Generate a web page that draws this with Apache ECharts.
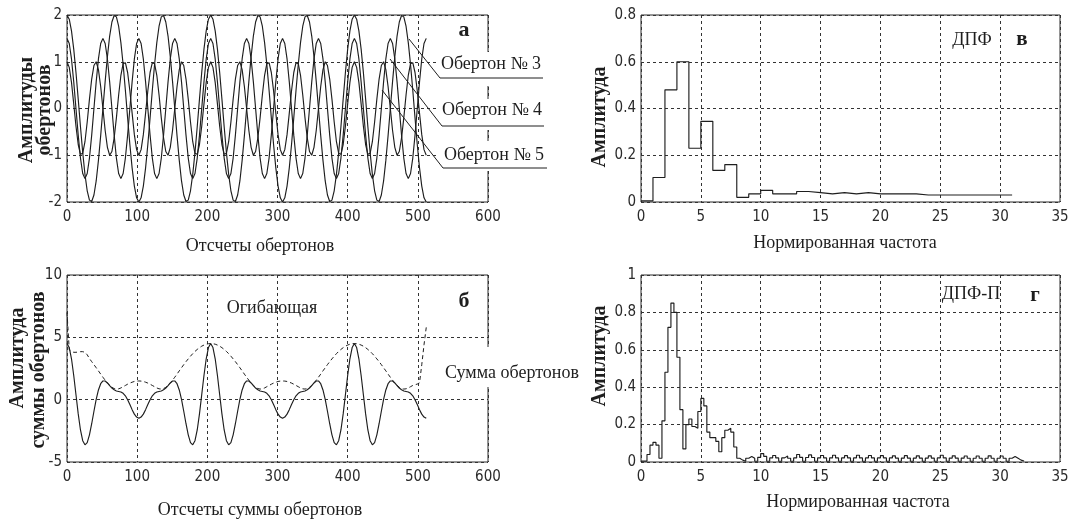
<!DOCTYPE html>
<html>
<head>
<meta charset="utf-8">
<title>Обертоны и ДПФ</title>
<script src="https://cdn.jsdelivr.net/npm/echarts@6/dist/echarts.min.js"></script>
<style>
	html, body { margin: 0; padding: 0; background: #fff; }
	#chart { width: 1073px; height: 521px; }
</style>
</head>
<body>
<div id="chart"></div>
<script>
// sample numbers (Отсчеты), shared by panels а and б
const sampleX = [
	0,3.2,6.4,9.6,12.8,16,19.2,22.4,25.6,28.8,
	32,35.2,38.4,41.6,44.8,48,51.2,54.4,57.6,60.8,
	64,67.2,70.4,73.6,76.8,80,83.2,86.4,89.6,92.8,
	96,99.2,102.4,105.6,108.8,112,115.2,118.4,121.6,124.8,
	128,131.2,134.4,137.6,140.8,144,147.2,150.4,153.6,156.8,
	160,163.2,166.4,169.6,172.8,176,179.2,182.4,185.6,188.8,
	192,195.2,198.4,201.6,204.8,208,211.2,214.4,217.6,220.8,
	224,227.2,230.4,233.6,236.8,240,243.2,246.4,249.6,252.8,
	256,259.2,262.4,265.6,268.8,272,275.2,278.4,281.6,284.8,
	288,291.2,294.4,297.6,300.8,304,307.2,310.4,313.6,316.8,
	320,323.2,326.4,329.6,332.8,336,339.2,342.4,345.6,348.8,
	352,355.2,358.4,361.6,364.8,368,371.2,374.4,377.6,380.8,
	384,387.2,390.4,393.6,396.8,400,403.2,406.4,409.6,412.8,
	416,419.2,422.4,425.6,428.8,432,435.2,438.4,441.6,444.8,
	448,451.2,454.4,457.6,460.8,464,467.2,470.4,473.6,476.8,
	480,483.2,486.4,489.6,492.8,496,499.2,502.4,505.6,508.8,
	512
];

const overtone3 = [
	2.00,1.91,1.66,1.27,0.77,0.20,-0.39,-0.94,-1.41,-1.76,
	-1.96,-1.99,-1.85,-1.55,-1.11,-0.58,0.00,0.58,1.11,1.55,
	1.85,1.99,1.96,1.76,1.41,0.94,0.39,-0.20,-0.77,-1.27,
	-1.66,-1.91,-2.00,-1.91,-1.66,-1.27,-0.77,-0.20,0.39,0.94,
	1.41,1.76,1.96,1.99,1.85,1.55,1.11,0.58,0.00,-0.58,
	-1.11,-1.55,-1.85,-1.99,-1.96,-1.76,-1.41,-0.94,-0.39,0.20,
	0.77,1.27,1.66,1.91,
	2.00,1.91,1.66,1.27,0.77,0.20,-0.39,-0.94,-1.41,-1.76,
	-1.96,-1.99,-1.85,-1.55,-1.11,-0.58,0.00,0.58,1.11,1.55,
	1.85,1.99,1.96,1.76,1.41,0.94,0.39,-0.20,-0.77,-1.27,
	-1.66,-1.91,-2.00,-1.91,-1.66,-1.27,-0.77,-0.20,0.39,0.94,
	1.41,1.76,1.96,1.99,1.85,1.55,1.11,0.58,0.00,-0.58,
	-1.11,-1.55,-1.85,-1.99,-1.96,-1.76,-1.41,-0.94,-0.39,0.20,
	0.77,1.27,1.66,1.91,
	2.00,1.91,1.66,1.27,0.77,0.20,-0.39,-0.94,-1.41,-1.76,
	-1.96,-1.99,-1.85,-1.55,-1.11,-0.58,0.00,0.58,1.11,1.55,
	1.85,1.99,1.96,1.76,1.41,0.94,0.39,-0.20,-0.77,-1.27,
	-1.66,-1.91,-2.00
];

const overtone4 = [
	1.50,1.39,1.06,0.57,0.00,-0.57,-1.06,-1.39,-1.50,-1.39,-1.06,-0.57,0.00,0.57,1.06,1.39,
	1.50,1.39,1.06,0.57,0.00,-0.57,-1.06,-1.39,-1.50,-1.39,-1.06,-0.57,0.00,0.57,1.06,1.39,
	1.50,1.39,1.06,0.57,0.00,-0.57,-1.06,-1.39,-1.50,-1.39,-1.06,-0.57,0.00,0.57,1.06,1.39,
	1.50,1.39,1.06,0.57,0.00,-0.57,-1.06,-1.39,-1.50,-1.39,-1.06,-0.57,0.00,0.57,1.06,1.39,
	1.50,1.39,1.06,0.57,0.00,-0.57,-1.06,-1.39,-1.50,-1.39,-1.06,-0.57,0.00,0.57,1.06,1.39,
	1.50,1.39,1.06,0.57,0.00,-0.57,-1.06,-1.39,-1.50,-1.39,-1.06,-0.57,0.00,0.57,1.06,1.39,
	1.50,1.39,1.06,0.57,0.00,-0.57,-1.06,-1.39,-1.50,-1.39,-1.06,-0.57,0.00,0.57,1.06,1.39,
	1.50,1.39,1.06,0.57,0.00,-0.57,-1.06,-1.39,-1.50,-1.39,-1.06,-0.57,0.00,0.57,1.06,1.39,
	1.50,1.39,1.06,0.57,0.00,-0.57,-1.06,-1.39,-1.50,-1.39,-1.06,-0.57,0.00,0.57,1.06,1.39,
	1.50,1.39,1.06,0.57,0.00,-0.57,-1.06,-1.39,-1.50,-1.39,-1.06,-0.57,0.00,0.57,1.06,1.39,
	1.50
];

const overtone5 = [
	1.00,0.88,0.56,0.10,-0.38,-0.77,-0.98,-0.96,-0.71,-0.29,
	0.20,0.63,0.92,1.00,0.83,0.47,0.00,-0.47,-0.83,-1.00,
	-0.92,-0.63,-0.20,0.29,0.71,0.96,0.98,0.77,0.38,-0.10,
	-0.56,-0.88,-1.00,-0.88,-0.56,-0.10,0.38,0.77,0.98,0.96,
	0.71,0.29,-0.20,-0.63,-0.92,-1.00,-0.83,-0.47,0.00,0.47,
	0.83,1.00,0.92,0.63,0.20,-0.29,-0.71,-0.96,-0.98,-0.77,
	-0.38,0.10,0.56,0.88,
	1.00,0.88,0.56,0.10,-0.38,-0.77,-0.98,-0.96,-0.71,-0.29,
	0.20,0.63,0.92,1.00,0.83,0.47,0.00,-0.47,-0.83,-1.00,
	-0.92,-0.63,-0.20,0.29,0.71,0.96,0.98,0.77,0.38,-0.10,
	-0.56,-0.88,-1.00,-0.88,-0.56,-0.10,0.38,0.77,0.98,0.96,
	0.71,0.29,-0.20,-0.63,-0.92,-1.00,-0.83,-0.47,0.00,0.47,
	0.83,1.00,0.92,0.63,0.20,-0.29,-0.71,-0.96,-0.98,-0.77,
	-0.38,0.10,0.56,0.88,
	1.00,0.88,0.56,0.10,-0.38,-0.77,-0.98,-0.96,-0.71,-0.29,
	0.20,0.63,0.92,1.00,0.83,0.47,0.00,-0.47,-0.83,-1.00,
	-0.92,-0.63,-0.20,0.29,0.71,0.96,0.98,0.77,0.38,-0.10,
	-0.56,-0.88,-1.00
];

// Сумма обертонов
const overtoneSum = [
	4.50,4.18,3.28,1.94,0.39,-1.14,-2.43,-3.29,-3.62,-3.44,
	-2.82,-1.93,-0.93,0.02,0.78,1.28,1.50,1.50,1.34,1.12,
	0.93,0.79,0.70,0.66,0.62,0.51,0.31,0.00,-0.39,-0.80,
	-1.16,-1.40,-1.50,-1.40,-1.16,-0.80,-0.39,0.00,0.31,0.51,
	0.62,0.66,0.70,0.79,0.93,1.12,1.34,1.50,1.50,1.28,
	0.78,0.02,-0.93,-1.93,-2.82,-3.44,-3.62,-3.29,-2.43,-1.14,
	0.39,1.94,3.28,4.18,
	4.50,4.18,3.28,1.94,0.39,-1.14,-2.43,-3.29,-3.62,-3.44,
	-2.82,-1.93,-0.93,0.02,0.78,1.28,1.50,1.50,1.34,1.12,
	0.93,0.79,0.70,0.66,0.62,0.51,0.31,0.00,-0.39,-0.80,
	-1.16,-1.40,-1.50,-1.40,-1.16,-0.80,-0.39,0.00,0.31,0.51,
	0.62,0.66,0.70,0.79,0.93,1.12,1.34,1.50,1.50,1.28,
	0.78,0.02,-0.93,-1.93,-2.82,-3.44,-3.62,-3.29,-2.43,-1.14,
	0.39,1.94,3.28,4.18,
	4.50,4.18,3.28,1.94,0.39,-1.14,-2.43,-3.29,-3.62,-3.44,
	-2.82,-1.93,-0.93,0.02,0.78,1.28,1.50,1.50,1.34,1.12,
	0.93,0.79,0.70,0.66,0.62,0.51,0.31,0.00,-0.39,-0.80,
	-1.16,-1.40,-1.50
];

// Огибающая (dashed)
const envelope = [
	7.00,4.00,3.85,3.80,3.80,3.82,3.85,3.85,3.80,3.60,
	3.30,3.05,2.81,2.56,2.31,2.05,1.80,1.56,1.34,1.15,
	0.99,0.89,0.85,0.87,0.94,1.04,1.14,1.24,1.33,1.40,
	1.46,1.49,1.50,1.49,1.46,1.40,1.33,1.24,1.14,1.04,
	0.94,0.87,0.85,0.89,0.99,1.15,1.34,1.56,1.80,2.05,
	2.31,2.56,2.81,3.05,3.27,3.49,3.69,3.87,4.03,4.17,
	4.29,4.38,4.45,4.49,
	4.50,4.49,4.45,4.38,4.29,4.17,4.03,3.87,3.69,3.49,
	3.27,3.05,2.81,2.56,2.31,2.05,1.80,1.56,1.34,1.15,
	0.99,0.89,0.85,0.87,0.94,1.04,1.14,1.24,1.33,1.40,
	1.46,1.49,1.50,1.49,1.46,1.40,1.33,1.24,1.14,1.04,
	0.94,0.87,0.85,0.89,0.99,1.15,1.34,1.56,1.80,2.05,
	2.31,2.56,2.81,3.05,3.27,3.49,3.69,3.87,4.03,4.17,
	4.29,4.38,4.45,4.49,
	4.50,4.49,4.45,4.38,4.29,4.17,4.03,3.87,3.69,3.49,
	3.27,3.05,2.81,2.56,2.31,2.05,1.80,1.56,1.34,1.15,
	0.99,0.89,0.85,0.87,0.94,1.04,1.14,1.20,1.25,1.35,
	2.80,4.40,5.80
];

// ДПФ (panel в)
const freqCoarse = [0,1,2,3,4,5,6,7,8,9,10,11,12,13,14,15,16,17,18,19,20,21,22,23,24,25,26,27,28,29,30,31];
const ampCoarse = [
	0.005,0.105,0.48,0.60,0.23,0.345,0.135,0.16,0.02,0.035,
	0.05,0.035,0.035,0.045,0.04,0.035,0.04,0.035,0.04,0.035,
	0.035,0.035,0.035,0.03,0.03,0.03,0.03,0.03,0.03,0.03,
	0.03,0.03
];

// ДПФ-П (panel г)
const freqFine = [
	0,0.25,0.5,0.75,1,1.25,1.5,1.75,2,2.25,2.5,2.75,3,3.25,3.5,3.75,
	4,4.25,4.5,4.75,5,5.25,5.5,5.75,6,6.25,6.5,6.75,7,7.25,7.5,7.75,
	8,8.25,8.5,8.75,9,9.25,9.5,9.75,10,10.25,10.5,10.75,11,11.25,11.5,11.75,
	12,12.25,12.5,12.75,13,13.25,13.5,13.75,14,14.25,14.5,14.75,15,15.25,15.5,15.75,
	16,16.25,16.5,16.75,17,17.25,17.5,17.75,18,18.25,18.5,18.75,19,19.25,19.5,19.75,
	20,20.25,20.5,20.75,21,21.25,21.5,21.75,22,22.25,22.5,22.75,23,23.25,23.5,23.75,
	24,24.25,24.5,24.75,25,25.25,25.5,25.75,26,26.25,26.5,26.75,27,27.25,27.5,27.75,
	28,28.25,28.5,28.75,29,29.25,29.5,29.75,30,30.25,30.5,30.75,31,31.25,31.5,31.75,
	32
];
const ampFine = [
	0.005,0.005,0.04,0.09,0.105,0.09,0.02,0.22,0.48,0.72,0.85,0.80,0.56,0.28,0.07,0.20,
	0.23,0.19,0.18,0.27,0.34,0.30,0.16,0.13,0.13,0.11,0.055,0.13,0.17,0.18,0.16,0.08,
	0.02,0.01,0.004,0.02,0.03,0.02,0.004,0.025,0.045,0.03,0.004,0.022,0.035,0.022,0.004,0.022,
	0.032,0.02,0.004,0.022,0.04,0.025,0.004,0.024,0.038,0.024,0.004,0.022,0.035,0.022,0.004,0.022,
	0.036,0.022,0.004,0.022,0.034,0.022,0.004,0.022,0.036,0.022,0.004,0.022,0.035,0.022,0.004,0.022,
	0.034,0.022,0.004,0.022,0.033,0.021,0.004,0.021,0.034,0.021,0.004,0.021,0.033,0.021,0.004,0.021,
	0.033,0.021,0.004,0.022,0.036,0.022,0.004,0.021,0.033,0.021,0.004,0.021,0.032,0.02,0.004,0.02,
	0.032,0.02,0.004,0.02,0.033,0.02,0.004,0.02,0.032,0.02,0.004,0.02,0.03,0.02,0.01,0.005,
	0.003
];

const serif = '"Liberation Serif", "Times New Roman", serif';
const narrow = '"Liberation Sans Narrow", "Arial Narrow", "DejaVu Sans Condensed", sans-serif';
const ink = '#1e1e1e';

function zip(xs, ys) {
	return xs.map((x, i) => [x, ys[i]]);
}

function makeGrid(left, top, width) {
	return {
		left: left, top: top, width: width, height: 187,
		show: true, borderColor: '#2b2b2b', borderWidth: 1, backgroundColor: '#fff'
	};
}

function makeXAxis(idx, max, interval) {
	return {
		type: 'value', gridIndex: idx, min: 0, max: max, interval: interval,
		axisLine: { show: false }, axisTick: { show: false },
		axisLabel: { color: '#2a2a2a', fontFamily: narrow, fontSize: 15, margin: 8 },
		splitLine: { show: true, lineStyle: { color: '#333', type: [3, 3], width: 1 } }
	};
}

function makeYAxis(idx, min, max, interval) {
	return {
		type: 'value', gridIndex: idx, min: min, max: max, interval: interval,
		axisLine: { show: false }, axisTick: { show: false },
		axisLabel: { color: '#2a2a2a', fontFamily: narrow, fontSize: 15, margin: 5 },
		splitLine: { show: true, lineStyle: { color: '#333', type: [3, 3], width: 1 } }
	};
}

function lineSeries(idx, data, extra) {
	return Object.assign({
		type: 'line', xAxisIndex: idx, yAxisIndex: idx, data: data,
		showSymbol: false, symbol: 'none', silent: true, z: 3,
		lineStyle: { color: ink, width: 1.15 }
	}, extra || {});
}

function label(text, x, y, size, bold, extra) {
	return Object.assign({
		type: 'text', x: x, y: y, z: 120,
		style: {
			text: text, fill: ink,
			font: (bold ? 'bold ' : '') + size + 'px ' + serif,
			align: 'center', verticalAlign: 'middle',
			textAlign: 'center', textVerticalAlign: 'middle'
		}
	}, extra || {});
}

function whiteBox(x, y, w, h) {
	return { type: 'rect', z: 110, shape: { x: x, y: y, width: w, height: h }, style: { fill: '#fff' } };
}

function segment(x1, y1, x2, y2) {
	return { type: 'line', z: 115, shape: { x1: x1, y1: y1, x2: x2, y2: y2 }, style: { stroke: ink, lineWidth: 1 } };
}

const vertical = { rotation: Math.PI / 2 };

let chart = echarts.init(document.getElementById('chart'), null, { renderer: 'canvas' });

let option = {
	backgroundColor: '#fff',
	animation: false,
	grid: [
		makeGrid(67, 15, 421),
		makeGrid(641, 15, 419),
		makeGrid(67, 275, 421),
		makeGrid(641, 275, 419)
	],
	xAxis: [
		makeXAxis(0, 600, 100),
		makeXAxis(1, 35, 5),
		makeXAxis(2, 600, 100),
		makeXAxis(3, 35, 5)
	],
	yAxis: [
		makeYAxis(0, -2, 2, 1),
		makeYAxis(1, 0, 0.8, 0.2),
		makeYAxis(2, -5, 10, 5),
		makeYAxis(3, 0, 1, 0.2)
	],
	series: [
		lineSeries(0, zip(sampleX, overtone3)),
		lineSeries(0, zip(sampleX, overtone4)),
		lineSeries(0, zip(sampleX, overtone5)),
		lineSeries(1, zip(freqCoarse, ampCoarse), { step: 'end' }),
		lineSeries(2, zip(sampleX, overtoneSum)),
		lineSeries(2, zip(sampleX, envelope), { lineStyle: { color: ink, width: 1, type: [4, 3] } }),
		lineSeries(3, zip(freqFine, ampFine), { step: 'end' })
	],
	graphic: [
		// panel а
		label('Амплитуды', 27, 110, 20, true, vertical),
		label('обертонов', 45, 110, 20, true, vertical),
		label('Отсчеты обертонов', 260, 246, 18, false),
		label('а', 464, 30, 22, true),
		segment(409, 39, 440, 78),
		segment(390, 59, 442, 126),
		segment(382, 90, 443, 168),
		whiteBox(437, 52, 112, 34),
		whiteBox(437, 99, 112, 31),
		whiteBox(437, 141, 115, 30),
		label('Обертон № 3', 491, 64, 18, false),
		label('Обертон № 4', 492, 110, 18, false),
		label('Обертон № 5', 494, 155, 18, false),
		segment(440, 78, 543, 78),
		segment(442, 126, 544, 126),
		segment(443, 168, 547, 168),

		// panel в
		label('Амплитуда', 600, 117, 20, true, vertical),
		label('Нормированная частота', 845, 243, 18, false),
		label('ДПФ', 972, 40, 18, false),
		label('в', 1022, 40, 21, true),

		// panel б
		label('Амплитуда', 18, 358, 20, true, vertical),
		label('суммы обертонов', 39, 370, 20, true, vertical),
		label('Отсчеты суммы обертонов', 260, 510, 18, false),
		label('б', 464, 301, 22, true),
		label('Огибающая', 272, 308, 18, false),
		whiteBox(438, 347, 148, 40),
		label('Сумма обертонов', 512, 373, 18, false),

		// panel г
		label('Амплитуда', 600, 356, 20, true, vertical),
		label('Нормированная частота', 858, 502, 18, false),
		label('ДПФ-П', 971, 294, 18, false),
		label('г', 1035, 296, 21, true)
	]
};

option && chart.setOption(option);
</script>
</body>
</html>
